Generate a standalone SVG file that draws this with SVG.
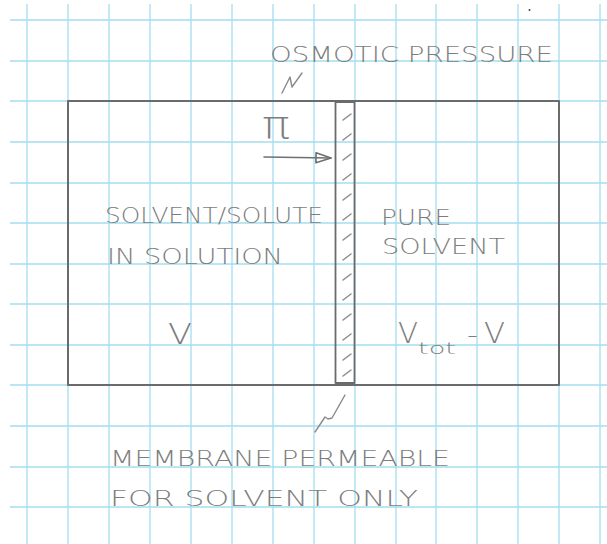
<svg xmlns="http://www.w3.org/2000/svg" width="607" height="544" viewBox="0 0 607 544">
<style>
.grid line{stroke:#a3def0;stroke-width:1.3}
.pen{fill:none;stroke:#6b6b6b;stroke-width:2;stroke-linecap:round;stroke-linejoin:round}
.thin{fill:none;stroke:#8a8a8a;stroke-width:1.4;stroke-linecap:round;stroke-linejoin:round}
.t{font-family:"DejaVu Sans","Liberation Sans",sans-serif;font-weight:200;font-size:22px;fill:#7d7d7d}
</style>
<defs>
<marker id="head" markerWidth="18" markerHeight="12" refX="16" refY="6" orient="auto" markerUnits="userSpaceOnUse">
<path d="M1,1 L16,6 L1,11 Z" fill="none" stroke="#707070" stroke-width="1.6" stroke-linejoin="round"/>
</marker>
</defs>
<rect width="607" height="544" fill="#ffffff"/>
<g class="grid">
<line x1="27" y1="4" x2="27" y2="544"/><line x1="68" y1="4" x2="68" y2="544"/><line x1="109" y1="4" x2="109" y2="544"/><line x1="150" y1="4" x2="150" y2="544"/><line x1="191" y1="4" x2="191" y2="544"/><line x1="232" y1="4" x2="232" y2="544"/><line x1="273" y1="4" x2="273" y2="544"/><line x1="314" y1="4" x2="314" y2="544"/><line x1="355" y1="4" x2="355" y2="544"/><line x1="396" y1="4" x2="396" y2="544"/><line x1="436" y1="4" x2="436" y2="544"/><line x1="477" y1="4" x2="477" y2="544"/><line x1="518" y1="4" x2="518" y2="544"/><line x1="559" y1="4" x2="559" y2="544"/><line x1="600" y1="4" x2="600" y2="544"/>
<line x1="10" y1="20" x2="607" y2="20"/><line x1="10" y1="61" x2="607" y2="61"/><line x1="10" y1="101" x2="607" y2="101"/><line x1="10" y1="142" x2="607" y2="142"/><line x1="10" y1="183" x2="607" y2="183"/><line x1="10" y1="223" x2="607" y2="223"/><line x1="10" y1="264" x2="607" y2="264"/><line x1="10" y1="304" x2="607" y2="304"/><line x1="10" y1="345" x2="607" y2="345"/><line x1="10" y1="385" x2="607" y2="385"/><line x1="10" y1="426" x2="607" y2="426"/><line x1="10" y1="467" x2="607" y2="467"/><line x1="10" y1="507" x2="607" y2="507"/>
</g>
<circle cx="529.5" cy="10" r="1" fill="#444"/>
<g id="container">
<path class="pen" d="M68,101 L68,385 L559,385 L559,101 Z"/>
</g>
<g id="membrane">
<rect class="pen" x="335.5" y="102" width="19" height="281" style="stroke-width:1.8"/>
<path class="thin" d="M343,120 L351,114 M343,140 L351,134 M343,160 L351,154 M343,180 L351,174 M343,200 L351,194 M343,220 L351,214 M343,240 L351,234 M343,260 L351,254 M343,280 L351,274 M343,300 L351,294 M343,320 L351,314 M343,340 L351,334 M343,360 L351,354 M343,376 L351,370"/>
</g>
<g id="left-chamber">
<text class="t" x="105" y="223" textLength="218" lengthAdjust="spacingAndGlyphs">SOLVENT/SOLUTE</text>
<text class="t" x="107" y="264" textLength="176" lengthAdjust="spacingAndGlyphs">IN SOLUTION</text>
<text class="t" x="168" y="344" style="font-size:28px" textLength="24" lengthAdjust="spacingAndGlyphs">V</text>
</g>
<g id="right-chamber">
<text class="t" x="398" y="343" style="font-size:28px" textLength="20" lengthAdjust="spacingAndGlyphs">V</text>
<text class="t" x="418" y="354" style="font-size:15px" textLength="38" lengthAdjust="spacingAndGlyphs">tot</text>
<text class="t" x="467" y="343" style="font-size:24px" textLength="11" lengthAdjust="spacingAndGlyphs">-</text>
<text class="t" x="484" y="343" style="font-size:28px" textLength="21" lengthAdjust="spacingAndGlyphs">V</text>
<text class="t" x="381" y="225" textLength="70" lengthAdjust="spacingAndGlyphs">PURE</text>
<text class="t" x="382" y="254" textLength="123" lengthAdjust="spacingAndGlyphs">SOLVENT</text>
</g>
<g id="osmotic-pressure">
<text class="t" x="262" y="138" style="font-size:38px" textLength="28" lengthAdjust="spacingAndGlyphs">π</text>
<text class="t" x="270" y="62" textLength="283" lengthAdjust="spacingAndGlyphs">OSMOTIC PRESSURE</text>
</g>
<g id="membrane-label">
<text class="t" x="110" y="466" textLength="340" lengthAdjust="spacingAndGlyphs">MEMBRANE PERMEABLE</text>
<text class="t" x="110" y="506" textLength="308" lengthAdjust="spacingAndGlyphs">FOR SOLVENT ONLY</text>
</g>
<g id="connectors">
<path class="thin" d="M282,93 L290,77 L292,87 L302,73"/>
<path class="thin" d="M315,432 L325,417 L328,419 L332,418 L345,395"/>
<line class="thin" x1="264" y1="157" x2="331" y2="158" marker-end="url(#head)" style="stroke:#707070;stroke-width:1.6"/>
</g>
</svg>
